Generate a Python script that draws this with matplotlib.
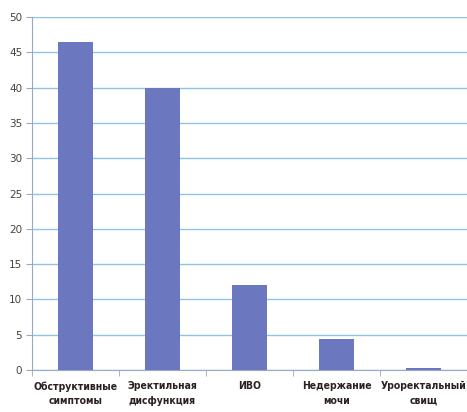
import matplotlib.pyplot as plt
import numpy as np
from matplotlib import font_manager

categories = ["Обструктивные\nсимптомы", "Эректильная\nдисфункция", "ИВО",
              "Недержание\nмочи", "Уроректальный\nсвищ"]
values = [46.5, 40.0, 12.0, 4.4, 0.25]
yticks = [0, 5, 10, 15, 20, 25, 30, 35, 40, 45, 50]

names = {f.name for f in font_manager.fontManager.ttflist}
narrow = [n for n in ["Liberation Sans Narrow", "DejaVu Sans Condensed"] if n in names]
plt.rcParams["font.family"] = narrow + ["DejaVu Sans"]

fig = plt.figure(figsize=(4.67, 4.12), dpi=100)
ax = fig.add_axes([32 / 467, 1 - 370 / 412, 1 - 32 / 467, (370 - 17) / 412])

x = np.arange(len(categories))
ax.bar(x, values, width=0.4, color="#6b78bf", zorder=3)

ax.set_xlim(-0.5, len(categories) - 0.5)
ax.set_ylim(0, 50)
ax.set_yticks(yticks)
ax.grid(axis="y", color="#8fc3e6", linewidth=1.0, zorder=0)

# categories on the labels, ticks on the boundaries
ax.set_xticks(x)
ax.set_xticklabels(categories, fontsize=7.5, fontweight="bold", color="#2a2020",
                   linespacing=1.6, fontstretch="condensed")
ax.tick_params(axis="x", length=0, pad=8)
ax.set_xticks(np.arange(-0.5, len(categories)), minor=True)
ax.tick_params(axis="x", which="minor", length=4, color="#9aa8c0")
ax.tick_params(axis="y", length=4, color="#9aa8c0", labelsize=7.5,
               labelcolor="#4a4040", pad=3)

for side in ["top", "right"]:
    ax.spines[side].set_visible(False)
ax.spines["left"].set_color("#9aa8c0")
ax.spines["bottom"].set_color("#9aa8c0")

fig.savefig("out.png", dpi=100)
plt.close(fig)
